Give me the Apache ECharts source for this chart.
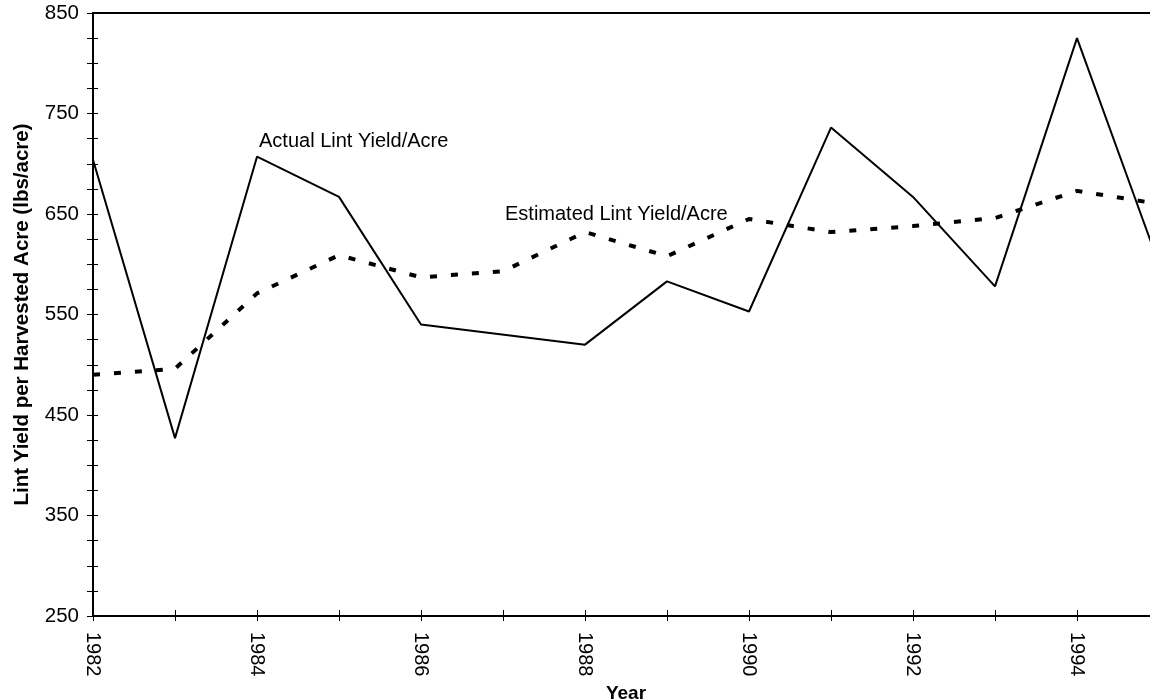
<!DOCTYPE html>
<html>
<head>
<meta charset="utf-8">
<script src="https://cdn.jsdelivr.net/npm/echarts@6/dist/echarts.min.js"></script>
<style>
html,body{margin:0;padding:0;background:#fff;overflow:hidden;width:1150px;height:700px;}
#chart{width:1162px;height:700px;}
</style>
</head>
<body>
<div id="chart"></div>
<script>
const years = ['1982','1983','1984','1985','1986','1987','1988','1989','1990','1991','1992','1993','1994','1995'];
const actualYield = [704, 427, 707, 667, 540, null, 520, 583, 553, 736, 667, 578, 825, 600];
const estimatedYield = [490, 496, 571, 609, 587, 593, 632, 608, 645, 632, 638, 646, 673, 660];
const yTickLabels = [250, 350, 450, 550, 650, 750, 850];
const actualLabel = 'Actual Lint Yield/Acre';
const estimatedLabel = 'Estimated Lint Yield/Acre';
const xTitle = 'Year';
const yTitle = 'Lint Yield per Harvested Acre (lbs/acre)';

const FONT = "'Liberation Sans', Arial, sans-serif";
const chart = echarts.init(document.getElementById('chart'), null, {renderer: 'canvas'});

const baseX = {
  type: 'category',
  data: years,
  boundaryGap: false,
  position: 'bottom',
  gridIndex: 0
};
const baseY = {
  type: 'value',
  min: 250,
  max: 850,
  interval: 25,
  position: 'left',
  gridIndex: 0,
  splitLine: {show: false}
};

chart.setOption({
  animation: false,
  backgroundColor: '#fff',
  grid: {
    left: 93, right: 3, top: 13, bottom: 84,
    outerBoundsMode: 'none',
    containLabel: false,
    show: true, borderColor: '#000', borderWidth: 2, backgroundColor: 'transparent'
  },
  xAxis: [
    Object.assign({}, baseX, {
      name: xTitle,
      nameLocation: 'middle',
      nameGap: 67,
      nameTextStyle: {fontFamily: FONT, fontSize: 19, fontWeight: 'bold', color: '#000'},
      axisLine: {show: true, lineStyle: {color: '#000', width: 2}},
      axisTick: {show: true, inside: false, length: 5, interval: 0, lineStyle: {color: '#000', width: 1}},
      axisLabel: {
        show: true, interval: 1, rotate: -90, margin: 16,
        fontFamily: FONT, fontSize: 20, color: '#000'
      },
      splitLine: {show: false}
    }),
    Object.assign({}, baseX, {
      axisLine: {show: false},
      axisTick: {show: true, inside: true, length: 6, interval: 0, lineStyle: {color: '#000', width: 1}},
      axisLabel: {show: false},
      splitLine: {show: false}
    })
  ],
  yAxis: [
    Object.assign({}, baseY, {
      name: yTitle,
      nameLocation: 'middle',
      nameGap: 60,
      nameRotate: 90,
      nameTextStyle: {fontFamily: FONT, fontSize: 20.5, fontWeight: 'bold', color: '#000'},
      axisLine: {show: true, lineStyle: {color: '#000', width: 2}},
      axisTick: {show: true, inside: false, length: 6, lineStyle: {color: '#000', width: 1}},
      axisLabel: {
        show: true, margin: 14, fontFamily: FONT, fontSize: 20.5, color: '#000',
        formatter: function (v) { return yTickLabels.indexOf(v) >= 0 ? String(v) : ''; }
      }
    }),
    Object.assign({}, baseY, {
      axisLine: {show: false},
      axisTick: {show: true, inside: true, length: 5, lineStyle: {color: '#000', width: 1}},
      axisLabel: {show: false}
    })
  ],
  series: [
    {
      name: actualLabel,
      type: 'line',
      xAxisIndex: 0, yAxisIndex: 0,
      data: actualYield,
      connectNulls: true,
      showSymbol: false,
      symbol: 'none',
      lineStyle: {color: '#000', width: 2},
      z: 3
    },
    {
      name: estimatedLabel,
      type: 'line',
      xAxisIndex: 0, yAxisIndex: 0,
      data: estimatedYield,
      showSymbol: false,
      symbol: 'none',
      lineStyle: {color: '#000', width: 4, type: [7, 14]},
      z: 2
    }
  ],
  graphic: [
    {
      type: 'text', x: 259, y: 141,
      style: {text: actualLabel, font: '20px ' + FONT, fill: '#000', textVerticalAlign: 'middle', verticalAlign: 'middle'}
    },
    {
      type: 'text', x: 505, y: 214,
      style: {text: estimatedLabel, font: '20px ' + FONT, fill: '#000', textVerticalAlign: 'middle', verticalAlign: 'middle'}
    }
  ]
});
</script>
</body>
</html>
